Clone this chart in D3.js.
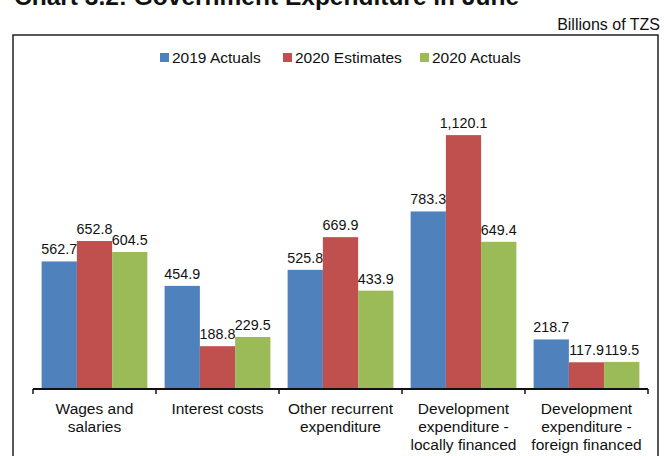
<!DOCTYPE html>
<html>
<head>
<meta charset="utf-8">
<script src="https://cdn.jsdelivr.net/npm/d3@7"></script>
<style>
  html, body { margin: 0; padding: 0; background: #fff; }
  svg { display: block; font-family: "Liberation Sans", Arial, Helvetica, sans-serif; }
</style>
</head>
<body>
<svg id="chart" width="664" height="456"></svg>
<script>
// Government expenditure by category (billions of TZS)
const categories = [
  ["Wages and", "salaries"],
  ["Interest costs"],
  ["Other recurrent", "expenditure"],
  ["Development", "expenditure -", "locally financed"],
  ["Development", "expenditure -", "foreign financed"]
];
const seriesNames = ["2019 Actuals", "2020 Estimates", "2020 Actuals"];
const actuals2019 = [562.7, 454.9, 525.8, 783.3, 218.7];
const estimates2020 = [652.8, 188.8, 669.9, 1120.1, 117.9];
const actuals2020 = [604.5, 229.5, 433.9, 649.4, 119.5];
const seriesValues = [actuals2019, estimates2020, actuals2020];
const colors = ["#4F81BD", "#C0504D", "#9BBB59"];

const svg = d3.select("#chart");

// Title (runs off the top edge of the page)
svg.append("text")
  .attr("x", 14).attr("y", 5)
  .attr("font-size", 24.5).attr("font-weight", "bold").attr("fill", "#111")
  .text("Chart 3.2: Government Expenditure in June");

svg.append("text")
  .attr("x", 660).attr("y", 30)
  .attr("text-anchor", "end")
  .attr("font-size", 16).attr("fill", "#111")
  .text("Billions of TZS");

// Chart frame
svg.append("rect")
  .attr("x", 13).attr("y", 35).attr("width", 645).attr("height", 440)
  .attr("fill", "none").attr("stroke", "#222").attr("stroke-width", 1.5);

const x0 = 33, x1 = 648, baseY = 389;
const x = d3.scaleBand().domain(d3.range(categories.length)).range([x0, x1]).paddingInner(0.14).paddingOuter(0.07);
const xs = d3.scaleBand().domain(d3.range(seriesNames.length)).range([0, x.bandwidth()]);
const y = d3.scaleLinear().domain([0, 1200]).range([baseY, baseY - 272]);

// Bars
seriesValues.forEach((vals, s) => {
  svg.append("g").selectAll("rect").data(vals).join("rect")
    .attr("x", (d, i) => x(i) + xs(s))
    .attr("width", xs.bandwidth())
    .attr("y", d => y(d))
    .attr("height", d => y(0) - y(d))
    .attr("fill", colors[s]);
  svg.append("g").selectAll("text").data(vals).join("text")
    .attr("x", (d, i) => x(i) + xs(s) + xs.bandwidth() / 2)
    .attr("y", d => y(d) - 7)
    .attr("text-anchor", "middle")
    .attr("font-size", 14.3).attr("fill", "#111")
    .text(d => d3.format(",.1f")(d));
});

// Category axis with boundary ticks
const axisG = svg.append("g");
axisG.append("line")
  .attr("x1", x0).attr("x2", x1).attr("y1", baseY).attr("y2", baseY)
  .attr("stroke", "#111").attr("stroke-width", 2);
const step = (x1 - x0) / categories.length;
d3.range(categories.length + 1).forEach(i => {
  axisG.append("line")
    .attr("x1", x0 + i * step).attr("x2", x0 + i * step)
    .attr("y1", baseY).attr("y2", baseY + 5)
    .attr("stroke", "#111").attr("stroke-width", 1.5);
});
categories.forEach((lines, i) => {
  const t = axisG.append("text")
    .attr("text-anchor", "middle")
    .attr("font-size", 15.5).attr("fill", "#111");
  lines.forEach((ln, j) => {
    t.append("tspan")
      .attr("x", x0 + (i + 0.5) * step)
      .attr("y", baseY + 25 + j * 18)
      .text(ln);
  });
});

// Legend
const legend = svg.append("g");
const legendX = [160, 283, 420];
seriesNames.forEach((name, s) => {
  legend.append("rect")
    .attr("x", legendX[s]).attr("y", 53).attr("width", 9).attr("height", 9)
    .attr("fill", colors[s]);
  legend.append("text")
    .attr("x", legendX[s] + 12).attr("y", 63)
    .attr("font-size", 15.5).attr("fill", "#111")
    .text(name);
});
</script>
</body>
</html>
